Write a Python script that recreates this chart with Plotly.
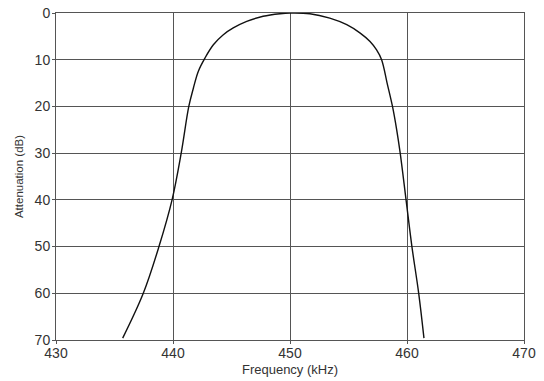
import plotly.graph_objects as go

freq_khz = [435.7, 437.46, 438.8, 439.92, 440.7, 441.35,
            441.74, 442.16, 442.74, 443.45, 444.3, 445.15, 446.3, 447.7, 449.15, 450.0,
            451.7, 453.4, 454.85, 456.0, 456.84, 457.4, 457.83, 458.3, 458.76, 459.12,
            459.42, 459.92, 460.42, 461.0, 461.45]
atten_db = [69.6, 60.0, 50.0, 40.0, 30.0, 20.0,
            16.1, 12.5, 9.6, 6.8, 4.65, 3.2, 1.8, 0.7, 0.15, 0.0,
            0.15, 1.1, 2.5, 4.3, 6.1, 7.9, 10.0, 15.0, 20.0, 25.0,
            30.0, 40.0, 50.0, 60.0, 69.6]

x_ticks = [430, 440, 450, 460, 470]
y_ticks = [0, 10, 20, 30, 40, 50, 60, 70]

FONT = "Liberation Sans, Arial, sans-serif"

fig = go.Figure()
fig.add_trace(go.Scatter(x=freq_khz, y=atten_db, mode="lines",
                         line=dict(color="#111111", width=1.4, shape="spline", smoothing=1.0),
                         hoverinfo="skip", showlegend=False))

axis_common = dict(showgrid=True, gridcolor="#555555", gridwidth=1,
                   showline=True, linecolor="#555555", linewidth=1, mirror=True,
                   zeroline=False, ticks="outside", ticklen=3, tickcolor="#555555",
                   automargin=False,
                   tickfont=dict(family=FONT, size=14, color="#333333"))

fig.update_xaxes(range=[430, 470], tickvals=x_ticks, ticklabelstandoff=-3,
                 title=dict(text="Frequency (kHz)", standoff=5,
                            font=dict(family=FONT, size=13, color="#333333")),
                 **axis_common)
fig.update_yaxes(range=[70, 0], tickvals=y_ticks, ticklabelstandoff=-1,
                 title=dict(text="Attenuation (dB)", standoff=8,
                            font=dict(family=FONT, size=11.5, color="#333333")),
                 **axis_common)

fig.update_layout(width=544, height=381, margin=dict(l=56, r=20, t=13, b=41),
                  paper_bgcolor="white", plot_bgcolor="white")

fig.write_html("out.html", config={"displayModeBar": False},
               post_script="document.body.style.margin='0';document.body.style.overflow='hidden';")
